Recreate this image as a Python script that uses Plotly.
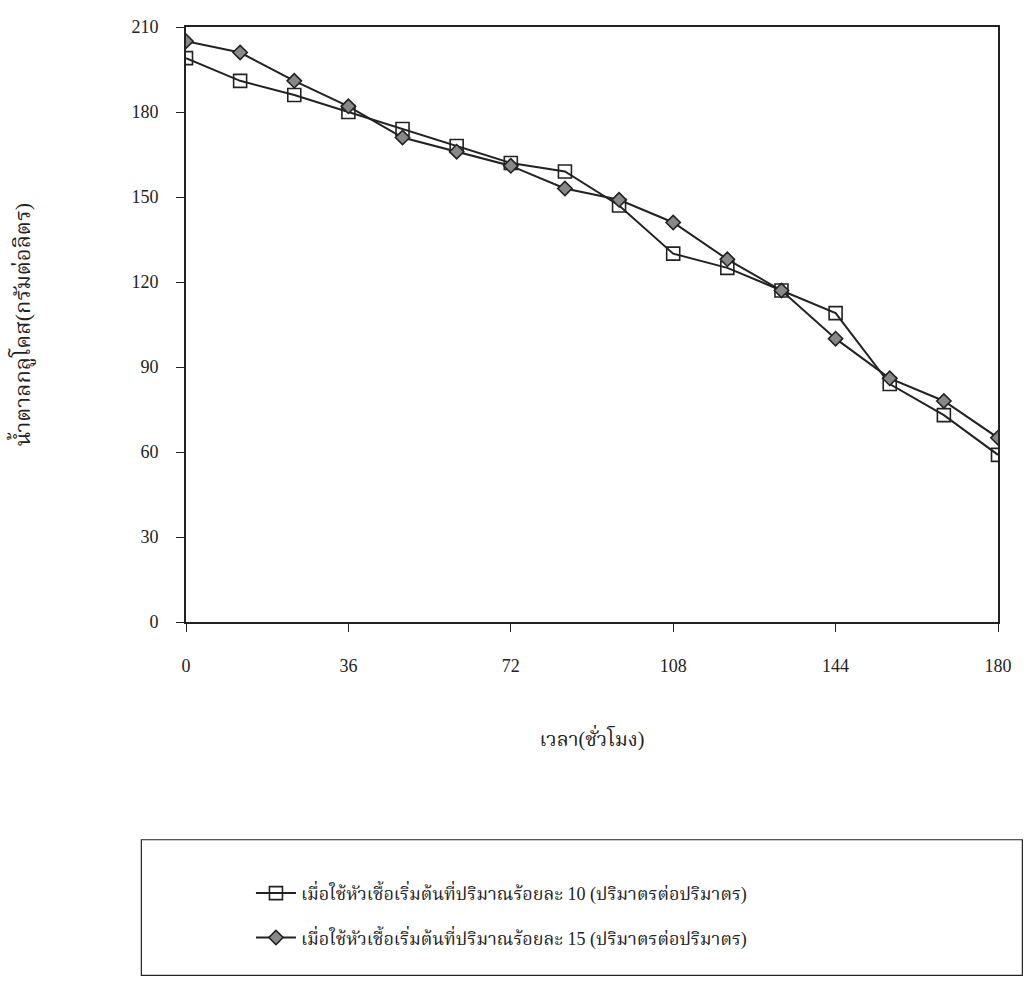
import plotly.graph_objects as go

# Time (hours)
hours = [0, 12, 24, 36, 48, 60, 72, 84, 96, 108, 120, 132, 144, 156, 168, 180]

# Glucose (g/L) with 10% and 15% (v/v) starter inoculum
glucose_10 = [199, 191, 186, 180, 174, 168, 162, 159, 147, 130, 125, 117, 109, 84, 73, 59]
glucose_15 = [205, 201, 191, 182, 171, 166, 161, 153, 149, 141, 128, 117, 100, 86, 78, 65]

name_10 = "เมื่อใช้หัวเชื้อเริ่มต้นที่ปริมาณร้อยละ 10 (ปริมาตรต่อปริมาตร)"
name_15 = "เมื่อใช้หัวเชื้อเริ่มต้นที่ปริมาณร้อยละ 15 (ปริมาตรต่อปริมาตร)"

x_ticks = [0, 36, 72, 108, 144, 180]
y_ticks = [0, 30, 60, 90, 120, 150, 180, 210]

FONT = "Liberation Serif, Noto Serif Thai, Loma, serif"
INK = "#222222"

fig = go.Figure()
fig.add_trace(go.Scatter(
    x=hours, y=glucose_10, name=name_10, mode="lines+markers", legendgroup="a",
    line=dict(color=INK, width=2),
    marker=dict(symbol="square-open", size=13, color=INK, line=dict(width=1.6, color=INK)),
))
fig.add_trace(go.Scatter(
    x=hours, y=glucose_15, name=name_15, mode="lines+markers", legendgroup="b",
    line=dict(color=INK, width=2),
    marker=dict(symbol="diamond", size=11, color="#888888", line=dict(width=1.6, color=INK)),
))

# legend frame
fig.add_shape(type="rect", xref="paper", yref="paper",
              x0=-0.055, x1=1.03, y0=-0.594, y1=-0.366,
              line=dict(color=INK, width=1.2), fillcolor="rgba(0,0,0,0)")

fig.update_layout(
    width=1024, height=991,
    margin=dict(l=186, r=21, t=27, b=369),
    paper_bgcolor="white", plot_bgcolor="white",
    font=dict(family=FONT, size=18, color=INK),
    showlegend=True,
    legend=dict(x=0.08, y=-0.425, xanchor="left", yanchor="top",
                bgcolor="rgba(0,0,0,0)", borderwidth=0,
                font=dict(family=FONT, size=18, color=INK),
                traceorder="grouped", tracegroupgap=18, itemwidth=40),
    xaxis=dict(range=[0, 180], tickvals=x_ticks, ticks="outside", ticklen=8,
               tickcolor=INK, showline=True, linecolor=INK, linewidth=2,
               mirror=True, showgrid=False, zeroline=False,
               ticklabelstandoff=18,
               title=dict(text="เวลา(ชั่วโมง)", standoff=57,
                          font=dict(family=FONT, size=20))),
    yaxis=dict(range=[0, 210], tickvals=y_ticks, ticks="outside", ticklen=8,
               tickcolor=INK, showline=True, linecolor=INK, linewidth=2,
               mirror=True, showgrid=False, zeroline=False,
               ticklabelstandoff=14,
               title=dict(text="น้ำตาลกลูโคส(กรัมต่อลิตร)", standoff=95,
                          font=dict(family=FONT, size=22))),
)

fig.write_html("out.html")
